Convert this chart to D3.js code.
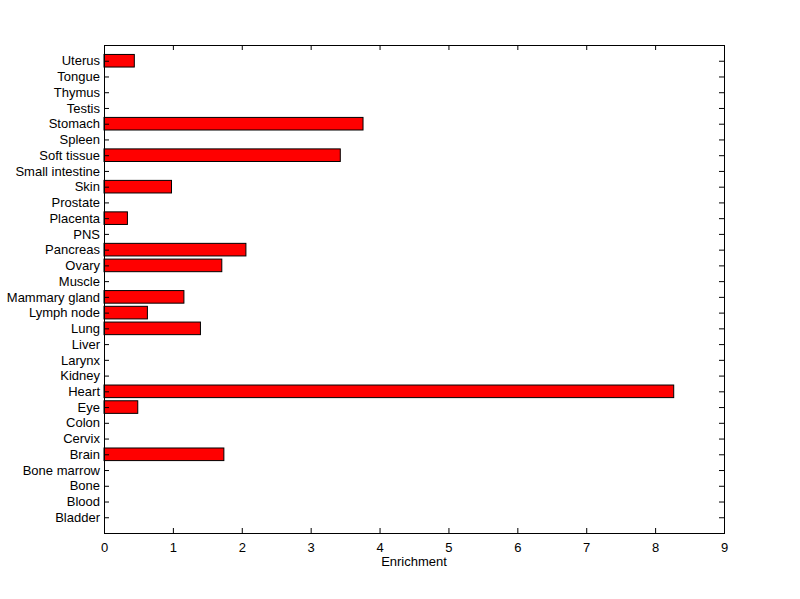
<!DOCTYPE html>
<html><head><meta charset="utf-8">
<script src="https://cdn.jsdelivr.net/npm/d3@7"></script>
<style>body{margin:0;background:#fff;} svg{display:block;} text{font-family:"Liberation Sans",Arial,sans-serif;font-size:13px;fill:#000;}</style>
</head><body>
<svg id="c" width="800" height="599"></svg>
<script>
const categories = ["Bladder","Blood","Bone","Bone marrow","Brain","Cervix","Colon","Eye","Heart","Kidney","Larynx","Liver","Lung","Lymph node","Mammary gland","Muscle","Ovary","Pancreas","PNS","Placenta","Prostate","Skin","Small intestine","Soft tissue","Spleen","Stomach","Testis","Thymus","Tongue","Uterus"];
const values = [0,0,0,0,1.74,0,0,0.49,8.27,0,0,0,1.40,0.63,1.16,0,1.71,2.06,0,0.34,0,0.98,0,3.43,0,3.76,0,0,0,0.44];
const xTicks = [0,1,2,3,4,5,6,7,8,9];
const xLabel = "Enrichment";

const svg = d3.select("#c");
const L=104, R=724, T=45, B=533;
const FS = 13;
const x = d3.scaleLinear().domain([0,9]).range([L,R]);
const y = d3.scaleLinear().domain([0,31]).range([B,T]);
const idx = categories.map((c,i)=>i+1);
const bw = 0.8;

svg.append("rect").attr("x",L).attr("y",T).attr("width",R-L).attr("height",B-T).attr("fill","#fff");

svg.append("g").selectAll("rect").data(values.map((v,i)=>({v,i})).filter(d=>d.v>0)).join("rect")
  .attr("x",x(0)).attr("y",d=>y(d.i+1+bw/2)).attr("width",d=>x(d.v)-x(0)).attr("height",d=>y(d.i+1-bw/2)-y(d.i+1+bw/2))
  .attr("fill","#ff0000").attr("stroke","#000").attr("stroke-width",1);

const tl = 5;
const gb = svg.append("g").attr("transform",`translate(0,${B})`).call(d3.axisBottom(x).tickValues(xTicks).tickFormat(d3.format("d")).tickSizeInner(-tl).tickSizeOuter(0).tickPadding(10));
const gt = svg.append("g").attr("transform",`translate(0,${T})`).call(d3.axisTop(x).tickValues(xTicks).tickFormat("").tickSizeInner(-tl).tickSizeOuter(0));
const gl = svg.append("g").attr("transform",`translate(${L},0)`).call(d3.axisLeft(y).tickValues(idx).tickFormat(d=>categories[d-1]).tickSizeInner(-tl).tickSizeOuter(0).tickPadding(4));
const gr = svg.append("g").attr("transform",`translate(${R},0)`).call(d3.axisRight(y).tickValues(idx).tickFormat("").tickSizeInner(-tl).tickSizeOuter(0));
[gb,gt,gl,gr].forEach(g=>{g.selectAll("path").remove();g.selectAll("line").attr("stroke","#000");g.selectAll("text").attr("font-size",FS).attr("font-family","Liberation Sans, Arial, sans-serif").attr("fill","#000");});
gb.selectAll("text").attr("dy","0.71em");

svg.append("rect").attr("x",L).attr("y",T).attr("width",R-L).attr("height",B-T).attr("fill","none").attr("stroke","#000").attr("stroke-width",1).attr("shape-rendering","crispEdges");

svg.append("text").attr("x",(L+R)/2).attr("y",566).attr("text-anchor","middle").attr("font-size",FS).text(xLabel);
</script>
</body></html>
